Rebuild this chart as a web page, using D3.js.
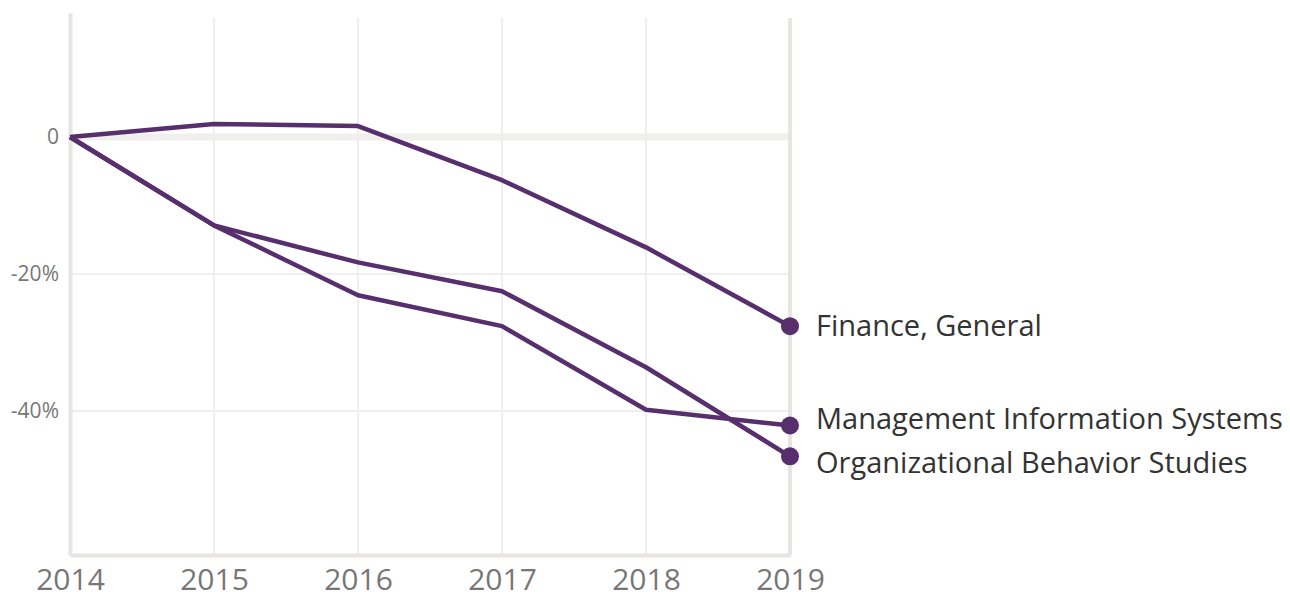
<!DOCTYPE html>
<html>
<head>
<meta charset="utf-8">
<script src="https://cdn.jsdelivr.net/npm/d3@7"></script>
<style>
  body { margin: 0; background: #fff; font-family: "Open Sans", sans-serif; }
</style>
</head>
<body>
<div id="chart"></div>
<script>
// data
const years = [2014, 2015, 2016, 2017, 2018, 2019];
const financeGeneral = [0, 1.9, 1.6, -6.3, -16.1, -27.6];
const orgBehavior = [0, -12.9, -18.3, -22.5, -33.6, -46.6];
const mgmtInfoSystems = [0, -12.9, -23.1, -27.6, -39.8, -42.1];
const seriesNames = ["Finance, General", "Management Information Systems", "Organizational Behavior Studies"];
const yTicks = [0, -20, -40];

const series = [
    {name: seriesNames[0], values: financeGeneral},
    {name: seriesNames[1], values: mgmtInfoSystems},
    {name: seriesNames[2], values: orgBehavior}
];

const margin = {top: 13, right: 500, bottom: 37, left: 70};
const width = 1290 - margin.left - margin.right;
const height = 592 - margin.top - margin.bottom;

const svg = d3.select("#chart").append("svg")
    .attr("width", 1290)
    .attr("height", 592)
    .append("g")
    .attr("transform", `translate(${margin.left}, ${margin.top})`);

const x = d3.scaleLinear().domain([2014, 2019]).range([0, width]);
const y = d3.scaleLinear().domain([-61, 18.1]).range([height, 0]);

// vertical grid
svg.append("g").selectAll("line")
    .data(years.slice(1, -1))
    .enter().append("line")
    .attr("x1", d => x(d)).attr("x2", d => x(d))
    .attr("y1", 5).attr("y2", height)
    .attr("stroke", "#f1efee").attr("stroke-width", 2);

// horizontal grid
svg.append("g").selectAll("line")
    .data(yTicks)
    .enter().append("line")
    .attr("x1", 0).attr("x2", width)
    .attr("y1", d => y(d)).attr("y2", d => y(d))
    .attr("stroke", "#f1efee")
    .attr("stroke-width", d => d === 0 ? 7 : 2);

// right edge line
svg.append("line")
    .attr("x1", x(2019)).attr("x2", x(2019))
    .attr("y1", 5).attr("y2", height)
    .attr("stroke", "#e8e4df").attr("stroke-width", 4);

// y axis
const yAxis = svg.append("g")
    .call(d3.axisLeft(y).tickValues(yTicks).tickSize(0).tickPadding(11)
        .tickFormat(d => d === 0 ? "0" : d + "%"));
yAxis.select(".domain").attr("stroke", "#e8e4df").attr("stroke-width", 4);
yAxis.selectAll("text").attr("fill", "#777").attr("font-size", 21)
    .attr("font-family", "Open Sans");

// x axis
const xAxis = svg.append("g")
    .attr("transform", `translate(0, ${height})`)
    .call(d3.axisBottom(x).tickValues(years).tickSize(0).tickPadding(14)
        .tickFormat(d3.format("d")));
xAxis.select(".domain").attr("stroke", "#e8e4df").attr("stroke-width", 4);
xAxis.selectAll("text").attr("fill", "#777").attr("font-size", 30)
    .attr("font-family", "Open Sans")
    .attr("dy", "0.71em");

const line = d3.line()
    .x((d, i) => x(years[i]))
    .y(d => y(d));

const lineColor = "#562f6c";

svg.append("g").selectAll("path")
    .data(series)
    .enter().append("path")
    .attr("d", d => line(d.values))
    .attr("fill", "none")
    .attr("stroke", lineColor)
    .attr("stroke-width", 4.5)
    .attr("stroke-linejoin", "round");

const last = years.length - 1;

svg.append("g").selectAll("circle")
    .data(series)
    .enter().append("circle")
    .attr("cx", x(years[last]))
    .attr("cy", d => y(d.values[last]))
    .attr("r", 9)
    .attr("fill", lineColor);

// spread end labels so they don't collide
const labels = series.map(d => ({name: d.name, y: y(d.values[last])}))
    .sort((a, b) => a.y - b.y);
const gap = 44;
for (let iter = 0; iter < 50; iter++) {
    for (let i = 1; i < labels.length; i++) {
        const overlap = gap - (labels[i].y - labels[i - 1].y);
        if (overlap > 0) {
            labels[i - 1].y -= overlap / 2;
            labels[i].y += overlap / 2;
        }
    }
}

svg.append("g").selectAll("text")
    .data(labels)
    .enter().append("text")
    .attr("x", x(years[last]) + 26)
    .attr("y", d => d.y)
    .attr("dy", "0.35em")
    .attr("fill", "#333")
    .attr("font-size", 29)
    .attr("font-family", "Open Sans")
    .text(d => d.name);
</script>
</body>
</html>
